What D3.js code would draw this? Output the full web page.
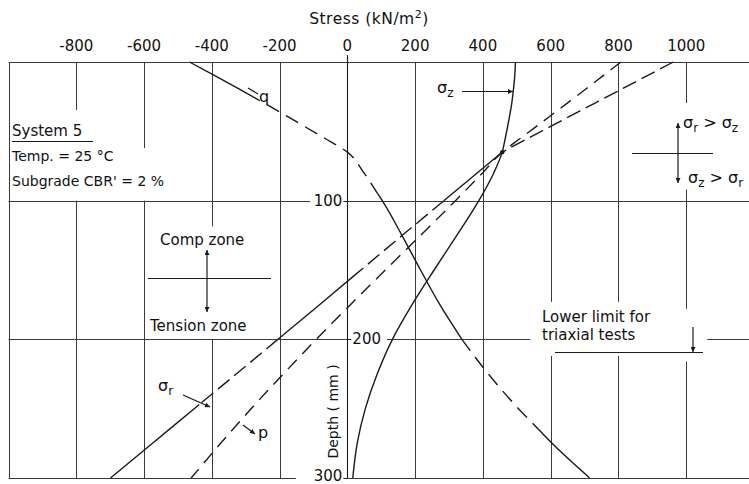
<!DOCTYPE html>
<html>
<head>
<meta charset="utf-8">
<script src="https://cdn.jsdelivr.net/npm/d3@7"></script>
<style>
  body { margin: 0; background: #fff; }
  text { font-family: "DejaVu Sans", sans-serif; fill: #111; }
</style>
</head>
<body>
<script>
const width = 749;
const height = 484;

// values (stress in kN/m2, depth in mm)
const depths = [0, 10, 20, 30, 40, 55, 65, 80, 100, 125, 150, 175, 200, 225, 250, 275, 300];
const sigmaZ = [496, 494, 490, 485, 478, 466, 457, 432, 388, 323, 256, 191, 133, 88, 53, 29, 16];
const sigmaR = [962, 884, 806, 728, 650, 533, 457, 383, 285, 162, 40, -82, -205, -328, -452, -575, -699];
const pStress = [807, 754, 701, 647, 593, 511, 457, 399, 319, 216, 112, 9, -92, -189, -284, -374, -461];
const qStress = [-466, -390, -316, -243, -172, -67, 0, 49, 103, 161, 216, 273, 338, 416, 505, 604, 715];

const stressTicks = [-800, -600, -400, -200, 0, 200, 400, 600, 800, 1000];
const depthTicks = [100, 200, 300];

// solid / dashed stretches of each curve, by depth
const styleSZ = [[0, 300, null]];
const styleSR = [[0, 65, "15,6"], [65, 100, null], [100, 153, "15,6"], [153, 200, null], [200, 247, "15,6"], [247, 300, null]];
const styleP = [[0, 300, "13,8"]];
const styleQ = [[0, 23, null], [23, 95, "14,8"], [95, 200, null], [200, 265, "14,8"], [265, 300, null]];

const x = d3.scaleLinear().domain([-1000, 1200]).range([8.5, 754]);
const y = d3.scaleLinear().domain([0, 300]).range([62, 478]);

const svg = d3.select("body").append("svg")
  .attr("width", width)
  .attr("height", height);

const ink = "#1a1a1a";
const gridInk = "#3a3a3a";

// grid: vertical lines with gaps where the notes sit (depth ranges)
const vGrid = [
  [-800, [[0, 34.6], [100, 300]]],
  [-600, [[0, 62], [100, 300]]],
  [-400, [[0, 118.5], [200, 300]]],
  [-200, [[0, 300]]],
  [200, [[0, 300]]],
  [400, [[0, 300]]],
  [600, [[0, 173], [212, 300]]],
  [800, [[0, 173], [212, 300]]],
  [1000, [[0, 29.6], [92, 178], [216, 300]]],
  [-1000, [[0, 300]]]
];
const hGrid = [
  [0, [[-1000, 1200]]],
  [100, [[-1000, -110], [0, 1200]]],
  [200, [[-1000, 0], [117, 540], [1062, 1200]]],
  [300, [[-1000, -152], [0, 1200]]]
];

const grid = svg.append("g").attr("stroke", gridInk).attr("stroke-width", 1);
vGrid.forEach(([s, parts]) => parts.forEach(([d0, d1]) => {
  grid.append("line")
    .attr("x1", Math.round(x(s)) + 0.5).attr("x2", Math.round(x(s)) + 0.5)
    .attr("y1", y(d0)).attr("y2", y(d1));
}));
hGrid.forEach(([d, parts]) => parts.forEach(([s0, s1]) => {
  grid.append("line")
    .attr("y1", Math.round(y(d)) + 0.5).attr("y2", Math.round(y(d)) + 0.5)
    .attr("x1", x(s0)).attr("x2", x(s1));
}));

// zero stress axis (depth axis)
svg.append("line")
  .attr("x1", Math.round(x(0)) + 0.5).attr("x2", Math.round(x(0)) + 0.5)
  .attr("y1", y(0) - 7).attr("y2", y(300))
  .attr("stroke", ink).attr("stroke-width", 1.1);

// top stress labels
svg.append("g").selectAll("text")
  .data(stressTicks)
  .join("text")
  .attr("x", d => x(d))
  .attr("y", 51)
  .attr("text-anchor", "middle")
  .attr("font-size", 15)
  .text(d => d);

const title = svg.append("text")
  .attr("x", 369).attr("y", 24)
  .attr("text-anchor", "middle")
  .attr("font-size", 15.5)
  .attr("letter-spacing", 0.5);
title.append("tspan").text("Stress  (kN/m");
title.append("tspan").attr("dy", -6).attr("font-size", 11).text("2");
title.append("tspan").attr("dy", 6).text(")");

// depth labels on the zero axis
const depthLab = svg.append("g").attr("font-size", 15);
depthTicks.forEach(d => {
  const right = d === 200;
  depthLab.append("text")
    .attr("x", right ? x(0) + 5 : x(0) - 5)
    .attr("y", Math.min(y(d) + 5, 481))
    .attr("text-anchor", right ? "start" : "end")
    .text(d);
  depthLab.append("line")
    .attr("x1", x(0)).attr("x2", right ? x(0) + 4 : x(0) - 4)
    .attr("y1", Math.round(y(d)) + 0.5).attr("y2", Math.round(y(d)) + 0.5)
    .attr("stroke", ink);
});
svg.append("text")
  .attr("transform", `translate(${x(0) - 9},${y(252)}) rotate(-90)`)
  .attr("text-anchor", "middle")
  .attr("font-size", 14)
  .text("Depth ( mm )");

// curves
const line = d3.line()
  .x(d => x(d[1]))
  .y(d => y(d[0]))
  .curve(d3.curveMonotoneY);

function valueAt(values, d) {
  const i = Math.min(d3.bisectRight(depths, d) - 1, depths.length - 2);
  const t = (d - depths[i]) / (depths[i + 1] - depths[i]);
  return values[i] + t * (values[i + 1] - values[i]);
}

function drawCurve(values, styles) {
  styles.forEach(([d0, d1, dash]) => {
    const pts = [[d0, valueAt(values, d0)]];
    depths.forEach((d, i) => { if (d > d0 && d < d1) pts.push([d, values[i]]); });
    pts.push([d1, valueAt(values, d1)]);
    svg.append("path")
      .attr("d", line(pts))
      .attr("fill", "none")
      .attr("stroke", ink)
      .attr("stroke-width", 1.4)
      .attr("stroke-dasharray", dash);
  });
}

drawCurve(sigmaZ, styleSZ);
drawCurve(sigmaR, styleSR);
drawCurve(pStress, styleP);
drawCurve(qStress, styleQ);

svg.append("circle")
  .attr("cx", x(457)).attr("cy", y(65)).attr("r", 2.2)
  .attr("fill", ink);

// arrow marker
svg.append("defs").append("marker")
  .attr("id", "arr")
  .attr("viewBox", "0 0 10 10")
  .attr("refX", 10).attr("refY", 5)
  .attr("markerWidth", 9).attr("markerHeight", 5)
  .attr("markerUnits", "userSpaceOnUse")
  .attr("orient", "auto")
  .append("path").attr("d", "M0,0L10,5L0,10z").attr("fill", ink);

function arrow(x1, y1, x2, y2) {
  svg.append("line")
    .attr("x1", x1).attr("y1", y1).attr("x2", x2).attr("y2", y2)
    .attr("stroke", ink).attr("stroke-width", 1.2)
    .attr("marker-end", "url(#arr)");
}
function rule(x1, y1, x2, y2) {
  svg.append("line")
    .attr("x1", x1).attr("y1", y1).attr("x2", x2).attr("y2", y2)
    .attr("stroke", ink).attr("stroke-width", 1.2);
}
function sigma(xp, yp, sub, anchor) {
  const t = svg.append("text").attr("x", xp).attr("y", yp)
    .attr("font-size", 16).attr("text-anchor", anchor || "start");
  t.append("tspan").text("σ");
  t.append("tspan").attr("dy", 4).attr("font-size", 12).text(sub);
  return t;
}

// notes, left block
svg.append("text").attr("x", 12).attr("y", 136).attr("font-size", 15).text("System  5");
rule(12, 141.5, 93, 141.5);
svg.append("text").attr("x", 12).attr("y", 161).attr("font-size", 14).text("Temp. = 25 °C");
svg.append("text").attr("x", 12).attr("y", 186).attr("font-size", 14).text("Subgrade  CBR' = 2 %");

// comp / tension zone
svg.append("text").attr("x", 160).attr("y", 245).attr("font-size", 15).text("Comp zone");
rule(148, 278.5, 271, 278.5);
arrow(207, 278, 207, 250);
arrow(207, 278, 207, 312);
svg.append("text").attr("x", 150).attr("y", 331).attr("font-size", 15).text("Tension zone");

// curve labels
sigma(437, 93, "z");
arrow(462, 91.5, 513, 91.5);

svg.append("text").attr("x", 259).attr("y", 102).attr("font-size", 16).text("q");
rule(248, 88, 258, 94);

sigma(158, 391, "r");
arrow(183, 395, 210, 407);

svg.append("text").attr("x", 258).attr("y", 438).attr("font-size", 16).text("p");
arrow(243, 425, 255, 434);

// sigma_r vs sigma_z note
const t1 = svg.append("text").attr("x", 683).attr("y", 128).attr("font-size", 16);
t1.append("tspan").text("σ");
t1.append("tspan").attr("dy", 4).attr("font-size", 12).text("r");
t1.append("tspan").attr("dy", -4).text(" > σ");
t1.append("tspan").attr("dy", 4).attr("font-size", 12).text("z");
rule(632, 153.5, 713, 153.5);
arrow(678, 153, 678, 123);
arrow(678, 153, 678, 183);
const t2 = svg.append("text").attr("x", 688).attr("y", 183).attr("font-size", 16);
t2.append("tspan").text("σ");
t2.append("tspan").attr("dy", 4).attr("font-size", 12).text("z");
t2.append("tspan").attr("dy", -4).text(" > σ");
t2.append("tspan").attr("dy", 4).attr("font-size", 12).text("r");

// triaxial limit note
svg.append("text").attr("x", 542).attr("y", 322).attr("font-size", 15).text("Lower limit for");
svg.append("text").attr("x", 542).attr("y", 340).attr("font-size", 15).text("triaxial tests");
arrow(693, 327, 693, 352);
rule(555, 352.5, 703, 352.5);
</script>
</body>
</html>
